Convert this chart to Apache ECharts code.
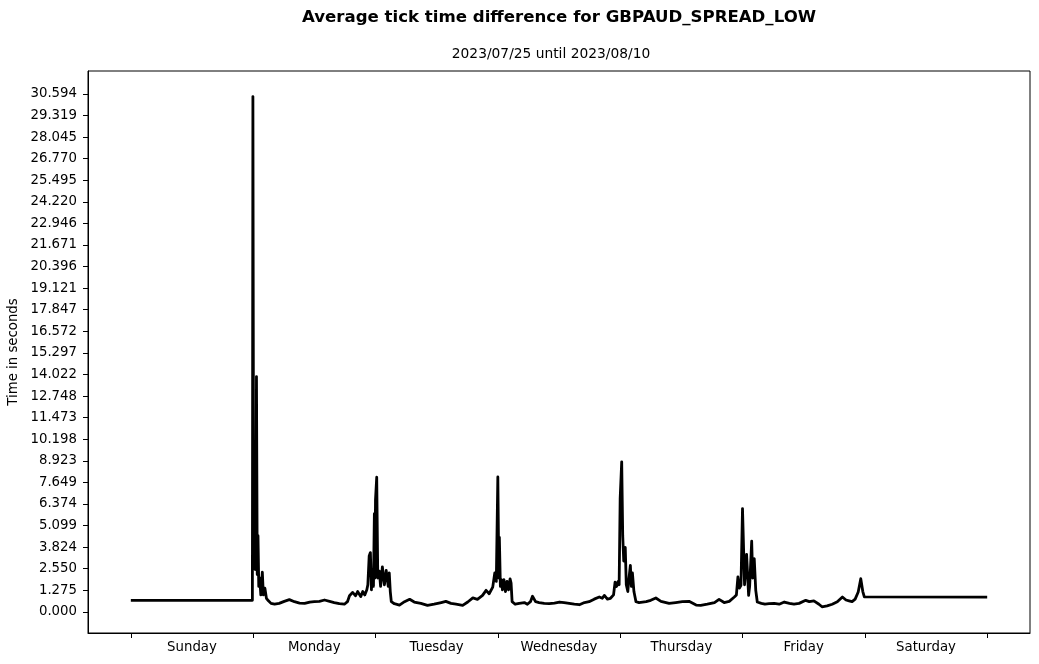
<!DOCTYPE html>
<html>
<head>
<meta charset="utf-8">
<script src="https://cdn.jsdelivr.net/npm/echarts@6/dist/echarts.min.js"></script>
<style>html,body{margin:0;padding:0;background:#fff}#c{width:1039px;height:664px}</style>
</head>
<body>
<div id="c"></div>
<script>
const titleText = 'Average tick time difference for GBPAUD_SPREAD_LOW';
const subtitleText = '2023/07/25 until 2023/08/10';
const yAxisName = 'Time in seconds';
const dayNames = ['Sunday','Monday','Tuesday','Wednesday','Thursday','Friday','Saturday'];
const dayTickHours = [0,24,48,72,96,120,144,168];
const dayLabelHours = [12,36,60,84,108,132,156];
const yTickLabels = ['0.000','1.275','2.550','3.824','5.099','6.374','7.649','8.923','10.198','11.473','12.748','14.022','15.297','16.572','17.847','19.121','20.396','21.671','22.946','24.220','25.495','26.770','28.045','29.319','30.594'];

// hours since start of week (Sunday 00:00)
const sundayHours = [0,23.85];
const sundayValues = [0.68,0.68];
const mondayHours = [23.95,24.1,24.25,24.4,24.55,24.65,24.8,24.95,25.1,25.3,25.5,25.8,26.0,26.3,26.6,27.0,27.5,
  28.2,29.1,30.1,31.1,32.1,33.1,34.1,35.1,36.0,37.0,38.0,39.0,39.9,40.9,41.9,42.5,42.9,43.5,44.1,44.5,45.1,45.5,45.9,46.3,46.5,46.76,47.0,47.2,47.4,47.6,47.78,47.9,48.0,48.24,48.45,48.76,49.0,49.35,49.75,50.1,50.5,50.7,50.9,51.1];
const mondayValues = [30.44,3.0,8.9,2.5,4.0,13.9,2.2,4.5,1.5,2.0,1.0,2.35,1.0,1.4,0.8,0.65,0.5,
  0.45,0.5,0.62,0.72,0.6,0.52,0.5,0.58,0.6,0.62,0.7,0.62,0.55,0.48,0.45,0.6,0.95,1.15,0.95,1.2,0.9,1.2,1.0,1.3,1.6,3.3,3.5,1.3,2.5,1.5,5.8,2.0,6.6,7.95,2.0,2.4,1.5,2.65,1.6,2.45,1.5,2.3,1.2,0.6];
const tuesdayHours = [51.7,52.7,53.7,54.7,55.6,56.9,58.2,59.5,60.9,61.8,62.8,63.8,65.1,66.1,67.1,68.0,69.0,69.7,70.3,71.0,71.4,71.7,72.0,72.2,72.3,72.5,72.7,72.9,73.2,73.5,73.8,74.1,74.4,74.6,74.8,75.4];
const tuesdayValues = [0.48,0.4,0.6,0.74,0.58,0.5,0.38,0.45,0.55,0.62,0.5,0.45,0.38,0.58,0.82,0.74,0.97,1.27,1.07,1.46,2.3,1.8,7.97,2.0,4.4,1.5,1.9,1.3,1.9,1.2,1.8,1.3,1.95,1.7,0.6,0.45];
const wednesdayHours = [76.2,77.2,77.8,78.4,78.8,79.4,80.1,81.1,82.1,83.1,84.1,85.0,86.0,87.0,88.0,89.0,89.9,90.9,91.9,92.5,92.9,93.5,94.1,94.7,95.0,95.3,95.6,95.8,96.0,96.3,96.5,96.7,97.0,97.2,97.5,97.7,98.0,98.2,98.4,98.7,99.1];
const wednesdayValues = [0.5,0.55,0.45,0.6,0.92,0.6,0.55,0.5,0.48,0.52,0.58,0.55,0.5,0.45,0.42,0.55,0.6,0.75,0.88,0.8,0.97,0.75,0.8,1.0,1.76,1.5,1.8,1.6,6.7,8.86,4.5,3.0,3.8,1.6,1.2,1.9,2.75,1.5,2.3,1.2,0.6];
const thursdayHours = [99.7,101.1,102.0,103.0,104.0,105.6,106.9,108.2,109.5,110.9,111.8,113.1,114.5,115.4,116.4,117.4,118.4,118.8,119.1,119.4,119.7,120.0,120.4,120.8,121.2,121.4,121.8,122.0,122.3,122.6,122.9];
const thursdayValues = [0.55,0.6,0.68,0.82,0.62,0.5,0.55,0.6,0.62,0.4,0.38,0.45,0.55,0.74,0.55,0.62,0.88,1.0,2.06,1.4,1.57,6.1,1.6,3.4,0.97,1.5,4.17,2.0,3.14,1.27,0.58];
const fridayHours = [123.7,124.4,125.2,126.2,127.2,128.2,129.2,130.1,131.1,132.4,133.1,134.0,135.0,135.6,136.6,137.6,138.6,139.6,140.3,140.9,141.5,142.1,142.7,143.2,143.4,143.6,143.9];
const fridayValues = [0.5,0.45,0.48,0.5,0.45,0.58,0.5,0.45,0.5,0.68,0.6,0.65,0.45,0.3,0.35,0.45,0.6,0.88,0.7,0.65,0.6,0.75,1.17,1.96,2.0,1.2,0.88];
const saturdayHours = [168];
const saturdayValues = [0.875];

const hours = [].concat(sundayHours, mondayHours, tuesdayHours, wednesdayHours, thursdayHours, fridayHours, saturdayHours);
const values = [].concat(sundayValues, mondayValues, tuesdayValues, wednesdayValues, thursdayValues, fridayValues, saturdayValues);
const seriesData = hours.map((h, i) => [h, values[i]]);
const yTickValues = yTickLabels.map(Number);

const FONT = 'DejaVu Sans';
const chart = echarts.init(document.getElementById('c'), null, {renderer: 'canvas'});
chart.setOption({
  animation: false,
  backgroundColor: '#ffffff',
  textStyle: {fontFamily: FONT, color: '#000'},
  graphic: [
    {type: 'text', x: 559, y: 18, style: {text: titleText, textAlign: 'center', textVerticalAlign: 'middle', fontFamily: FONT, fontWeight: 'bold', fontSize: 16.6, fill: '#000'}},
    {type: 'text', x: 551, y: 54, style: {text: subtitleText, textAlign: 'center', textVerticalAlign: 'middle', fontFamily: FONT, fontSize: 13.8, fill: '#000'}}
  ],
  grid: {left: 88, right: 9, top: 71, bottom: 31, outerBoundsMode: 'none', containLabel: false, show: true, borderColor: '#000', borderWidth: 1, backgroundColor: 'transparent'},
  xAxis: {
    type: 'value', min: -8.4, max: 176.4,
    axisLine: {show: true, onZero: false, lineStyle: {color: '#000', width: 1}},
    axisTick: {show: true, length: 5, lineStyle: {color: '#000'}, customValues: dayTickHours},
    axisLabel: {show: true, margin: 8, fontFamily: FONT, fontSize: 13.3, color: '#000', customValues: dayLabelHours,
      formatter: v => dayNames[dayLabelHours.indexOf(Math.round(v))] || ''},
    splitLine: {show: false}
  },
  yAxis: {
    type: 'value', min: -1.25, max: 31.95,
    name: yAxisName, nameLocation: 'middle', nameGap: 65, nameRotate: 90,
    nameTextStyle: {fontFamily: FONT, fontSize: 13.3, color: '#000'},
    axisLine: {show: true, onZero: false, lineStyle: {color: '#000', width: 1}},
    axisTick: {show: true, length: 5, lineStyle: {color: '#000'}, customValues: yTickValues},
    axisLabel: {show: true, margin: 11, fontFamily: FONT, fontSize: 13.3, color: '#000', customValues: yTickValues,
      formatter: v => { const i = yTickValues.findIndex(t => Math.abs(t - v) < 1e-6); return i >= 0 ? yTickLabels[i] : ''; }},
    splitLine: {show: false}
  },
  series: [{
    type: 'line', data: seriesData, showSymbol: false, symbol: 'none',
    lineStyle: {color: '#000', width: 2.8, join: 'round'}, itemStyle: {color: '#000'}, silent: true
  }]
});
</script>
</body>
</html>
